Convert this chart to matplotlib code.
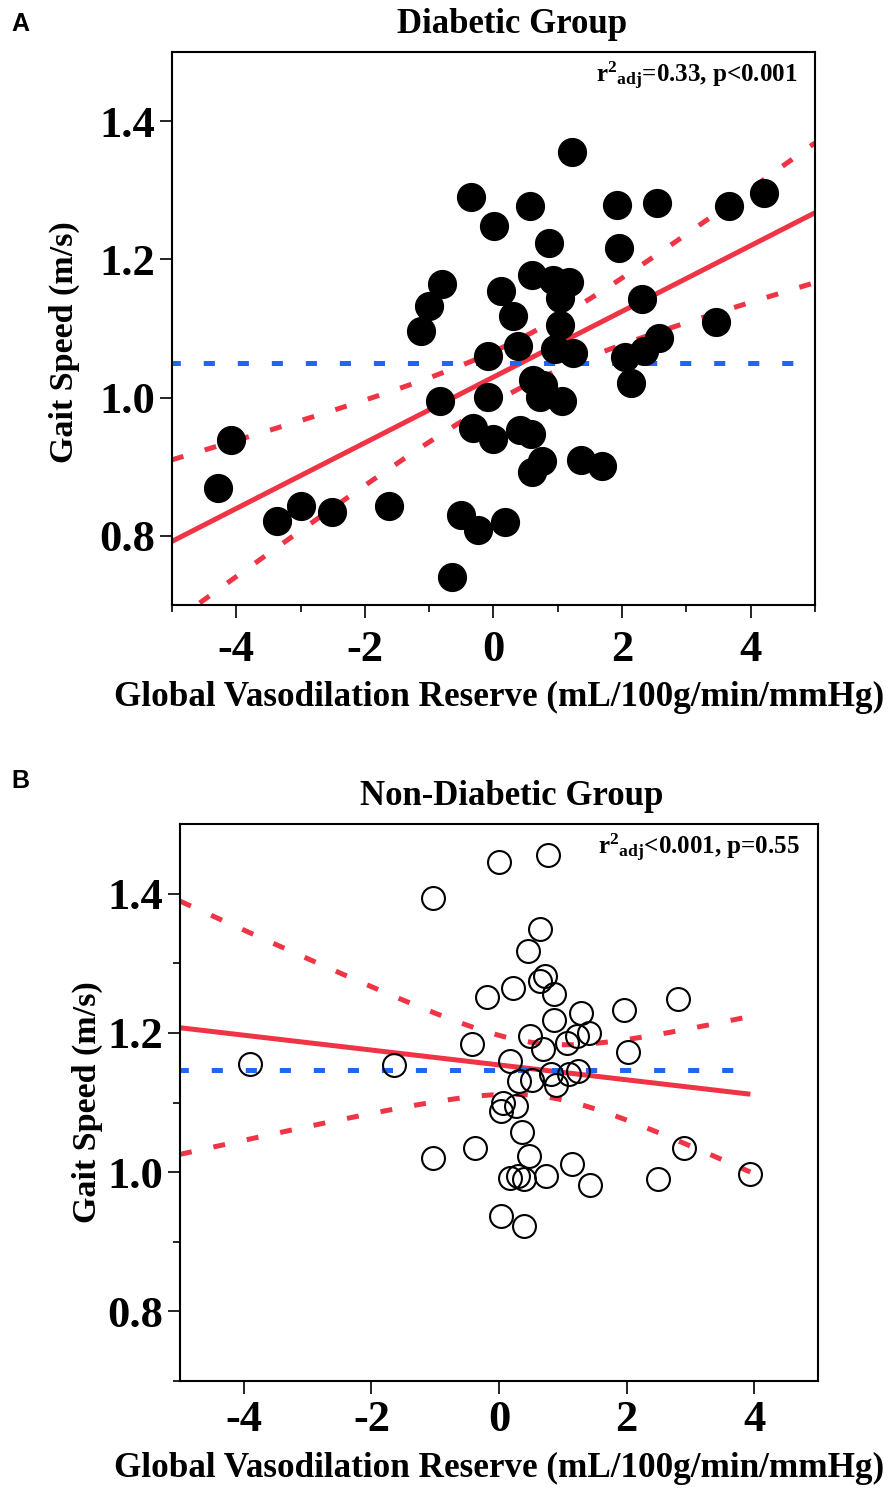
import matplotlib.pyplot as plt
import numpy as np

plt.rcParams['font.family'] = ['Liberation Serif', 'DejaVu Serif']
plt.rcParams['font.weight'] = 'bold'
plt.rcParams['mathtext.fontset'] = 'custom'
plt.rcParams['mathtext.rm'] = 'Liberation Serif:bold'
plt.rcParams['mathtext.it'] = 'Liberation Serif:bold'
plt.rcParams['mathtext.bf'] = 'Liberation Serif:bold'
plt.rcParams['lines.scale_dashes'] = False
plt.rcParams['axes.unicode_minus'] = False

# Diabetic group: global vasodilation reserve vs gait speed
dm_x = [1.216, -0.355, 0.568, 1.926, 2.548, 0.003, 0.863, 1.952, -0.806, 0.594,
        0.921, 1.179, 0.117, 1.034, 2.314, -1.008, 0.298, 1.034, -1.128, 2.569,
        0.381, 0.956, 1.231, 2.345, 2.045, -0.090, 2.134, -0.832, -0.090, 0.619,
        0.775, 0.723, 1.070, -0.324, -0.003, 0.412, 0.578, 0.750, 0.594, 1.361,
        1.692, -0.505, -0.236, 0.179, -0.650, -4.280, -4.080, -3.370, -2.990, -2.510,
        -1.630, 3.460, 3.660, 4.210]
dm_y = [1.356, 1.290, 1.277, 1.279, 1.282, 1.249, 1.224, 1.216, 1.165, 1.178,
        1.171, 1.167, 1.154, 1.144, 1.143, 1.132, 1.118, 1.105, 1.096, 1.086,
        1.075, 1.070, 1.065, 1.067, 1.059, 1.061, 1.022, 0.995, 1.001, 1.025,
        1.018, 1.001, 0.995, 0.956, 0.940, 0.953, 0.948, 0.908, 0.893, 0.910,
        0.901, 0.831, 0.808, 0.820, 0.740, 0.870, 0.939, 0.822, 0.843, 0.834,
        0.844, 1.110, 1.277, 1.296]

# Non-diabetic group
nd_x = [-3.91, -1.64, -1.04, -1.04, -0.43, -0.38, -0.19, 0.00, 0.03, 0.03,
        0.06, 0.17, 0.17, 0.22, 0.26, 0.30, 0.31, 0.36, 0.39, 0.39,
        0.45, 0.47, 0.48, 0.52, 0.64, 0.64, 0.72, 0.69, 0.74, 0.77,
        0.81, 0.86, 0.86, 0.89, 1.06, 1.10, 1.15, 1.22, 1.24, 1.29,
        1.41, 1.42, 1.96, 2.03, 2.50, 2.81, 2.90, 3.94]
nd_y = [1.155, 1.154, 1.394, 1.020, 1.184, 1.035, 1.251, 1.446, 0.937, 1.088,
        1.100, 1.160, 0.992, 1.264, 1.095, 0.994, 1.131, 1.058, 0.922, 0.990,
        1.317, 1.023, 1.196, 1.133, 1.349, 1.274, 1.282, 1.177, 0.994, 1.455,
        1.141, 1.256, 1.218, 1.125, 1.186, 1.141, 1.012, 1.196, 1.146, 1.229,
        1.200, 0.982, 1.233, 1.173, 0.990, 1.249, 1.035, 0.997]

titles = ["Diabetic Group", "Non-Diabetic Group"]
stats_text = [r"r$^{2}$$_{\mathrm{adj}}$=0.33, p<0.001", r"r$^{2}$$_{\mathrm{adj}}$<0.001, p=0.55"]
t_crit = [2.007, 2.013]
yticks = [0.8, 1.0, 1.2, 1.4]
xticks = [-4, -2, 0, 2, 4]

RED = '#ef3446'
BLUE = '#1f66f2'


def fit_band(x, y, xs, t):
    x = np.asarray(x)
    y = np.asarray(y)
    n = len(x)
    b, a = np.polyfit(x, y, 1)
    resid = y - (a + b * x)
    s = np.sqrt(np.sum(resid ** 2) / (n - 2))
    sxx = np.sum((x - x.mean()) ** 2)
    yhat = a + b * xs
    half = t * s * np.sqrt(1.0 / n + (xs - x.mean()) ** 2 / sxx)
    return yhat, yhat - half, yhat + half


fig = plt.figure(figsize=(8.92, 14.94), dpi=100)
axA = fig.add_axes([0.1928, 0.5950, 0.7209, 0.3701])
axB = fig.add_axes([0.2018, 0.0756, 0.7152, 0.3728])

for i, (ax, x, y) in enumerate([(axA, dm_x, dm_y), (axB, nd_x, nd_y)]):
    xmax = 5 if i == 0 else max(x)
    xs = np.linspace(-5, xmax, 200)
    yhat, lo, hi = fit_band(x, y, xs, t_crit[i])
    ax.plot(xs, yhat, color=RED, lw=3.6, solid_capstyle='butt', zorder=2)
    ax.plot(xs, lo, color=RED, lw=3.6, linestyle=(0, (8.6, 16)), zorder=2)
    ax.plot(xs, hi, color=RED, lw=3.6, linestyle=(0, (8.6, 16)), zorder=2)
    ax.plot([-5, xmax], [np.mean(y)] * 2, color=BLUE, lw=3.6,
            linestyle=(2, (8, 16.5)), zorder=2)
    if i == 0:
        ax.plot(x, y, 'o', color='black', ms=20, zorder=3)
    else:
        ax.plot(x, y, 'o', mfc='none', mec='black', mew=1.5, ms=16.5, zorder=3)

    ax.set_xlim(-5, 5)
    ax.set_ylim(0.7, 1.5)
    ax.set_xticks(xticks)
    ax.set_yticks(yticks)
    ax.set_yticklabels([f"{v:.1f}" for v in yticks])
    if i == 0:
        ax.set_xticks(np.arange(-5, 6, 1), minor=True)
    else:
        ax.set_yticks(np.arange(0.7, 1.45, 0.1), minor=True)
    ax.tick_params(which='major', length=9, width=1.2, labelsize=32, pad=3)
    ax.tick_params(which='minor', length=5, width=1.2)
    ax.tick_params(axis='x', which='major', pad=9 if i == 0 else 5)
    for sp in ax.spines.values():
        sp.set_linewidth(1.5)
    ax.set_title(titles[i], fontsize=25, fontweight='bold', pad=14,
                 x=0.529 if i == 0 else 0.52)
    ax.set_xlabel("Global Vasodilation Reserve (mL/100g/min/mmHg)", fontsize=25.3,
                  fontweight='bold', labelpad=8)
    ax.set_ylabel("Gait Speed (m/s)", fontsize=24.5, fontweight='bold')
    ax.text(0.972, 0.957, stats_text[i], transform=ax.transAxes, ha='right', va='center',
            fontsize=18, fontweight='bold')

axA.xaxis.set_label_coords(0.5086, -0.138)
axB.xaxis.set_label_coords(0.5, -0.128)
axA.yaxis.set_label_coords(-0.143, 0.476)
axB.yaxis.set_label_coords(-0.121, 0.5)

fig.text(20 / 892, 1 - 24 / 1494, "A", fontsize=18, fontweight='bold',
         family='Liberation Sans', ha='center', va='center')
fig.text(20 / 892, 1 - 781 / 1494, "B", fontsize=18, fontweight='bold',
         family='Liberation Sans', ha='center', va='center')

fig.savefig("out.png", dpi=100)
print("Saved out.png")
